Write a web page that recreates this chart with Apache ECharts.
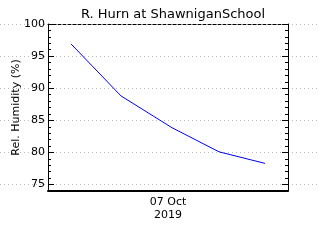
<!DOCTYPE html>
<html><head><meta charset="utf-8">
<script src="https://cdn.jsdelivr.net/npm/echarts@6/dist/echarts.min.js"></script>
<style>html,body{margin:0;padding:0;background:#fff}#c{width:320px;height:240px}</style>
</head><body><div id="c"></div>
<script>
// hours since 07 Oct 2019 00:00
var hours = [2.3, 7.3, 12.4, 17.1, 21.7];
var humidity = [96.9, 88.8, 83.85, 80.1, 78.3];
var yTicks = [75, 80, 85, 90, 95, 100];
var xLabelHour = 12;
var xLabelText = '07 Oct\n2019';
var titleText = 'R. Hurn at ShawniganSchool';
var yName = 'Rel. Humidity (%)';

var font = 'DejaVu Sans';
var chart = echarts.init(document.getElementById('c'), null, {renderer: 'canvas'});
var black = '#000';
function minorAxis(pos) {
  return {gridIndex: 0, type: 'value', position: pos, min: 74, max: 100, interval: 1,
    axisLine: {show: true, lineStyle: {color: black, width: 1}},
    axisTick: {show: true, inside: true, length: 3, lineStyle: {color: black}},
    axisLabel: {show: false}, splitLine: {show: false}};
}
function majorAxis(pos, labels) {
  return {gridIndex: 0, type: 'value', position: pos, min: 74, max: 100,
    name: labels ? yName : '', nameLocation: 'middle', nameGap: 26, nameMoveOverlap: false,
    nameTextStyle: {fontFamily: font, fontSize: 11, color: black},
    axisLine: {show: false},
    axisTick: {show: true, inside: true, length: 6, customValues: yTicks, lineStyle: {color: black}},
    axisLabel: {show: labels, customValues: yTicks, margin: 3, fontFamily: font, fontSize: 11, color: black},
    splitLine: {show: false}};
}
chart.setOption({
  animation: false,
  title: {text: titleText, left: 168, top: 3, textAlign: 'center',
    textStyle: {fontFamily: font, fontSize: 13, fontWeight: 'normal', color: black}},
  grid: [
    {left: 48, right: 32, top: 24, bottom: 49, outerBoundsMode: 'none', containLabel: false},
    {left: 0, right: 0, top: 24, bottom: 49, outerBoundsMode: 'none', containLabel: false}
  ],
  xAxis: [
    {gridIndex: 0, type: 'value', position: 'bottom', min: 0, max: 24, interval: 12,
      axisLine: {show: true, lineStyle: {color: black, width: 2}},
      axisTick: {show: false},
      axisLabel: {margin: 5, fontFamily: font, fontSize: 11, color: black, lineHeight: 13,
        showMinLabel: true, showMaxLabel: true,
        formatter: function (v) { return v === xLabelHour ? xLabelText : ''; }},
      splitLine: {show: false}},
    {gridIndex: 0, type: 'value', position: 'top', min: 0, max: 24,
      axisLine: {show: true, lineStyle: {color: black, width: 1, type: [3, 2]}},
      axisTick: {show: false}, axisLabel: {show: false}, splitLine: {show: false}},
    {gridIndex: 1, type: 'value', min: 0, max: 24, show: false}
  ],
  yAxis: [
    minorAxis('left'),
    majorAxis('left', true),
    minorAxis('right'),
    majorAxis('right', false),
    {gridIndex: 1, type: 'value', min: 74, max: 100, z: 0,
      axisLine: {show: false},
      axisTick: {show: false, customValues: yTicks},
      axisLabel: {show: false},
      splitLine: {show: true, lineStyle: {color: '#bbbbbb', width: 1, type: [1, 3]}}}
  ],
  series: [{
    type: 'line', xAxisIndex: 0, yAxisIndex: 0,
    data: hours.map(function (h, i) { return [h, humidity[i]]; }),
    showSymbol: false, symbol: 'none',
    lineStyle: {color: '#0000ff', width: 1}, z: 5
  }]
});
</script></body></html>
